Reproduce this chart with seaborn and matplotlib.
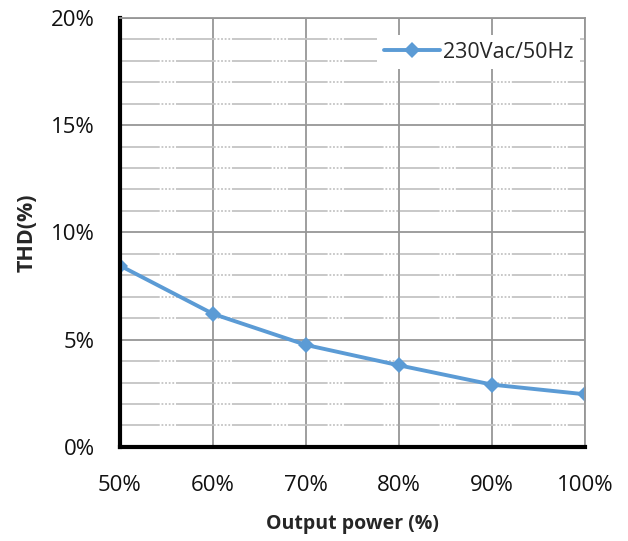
import matplotlib
matplotlib.use("Agg")
import matplotlib.pyplot as plt
import seaborn as sns
import pandas as pd
from matplotlib.ticker import MultipleLocator, FuncFormatter

# Dados
output_power = [50, 60, 70, 80, 90, 100]
thd = [8.45, 6.2, 4.75, 3.8, 2.9, 2.45]
series_label = "230Vac/50Hz"

df = pd.DataFrame({"power": output_power, "thd": thd, "serie": series_label})

sns.set_style("white")
plt.rcParams["font.family"] = ["Open Sans", "DejaVu Sans"]

fig = plt.figure(figsize=(6.28, 5.41), dpi=100)
ax = fig.add_axes([0.191, 0.174, 0.741, 0.793])

# Grade
ax.set_xlim(50, 100)
ax.set_ylim(0, 20)
ax.xaxis.set_major_locator(MultipleLocator(10))
ax.yaxis.set_major_locator(MultipleLocator(5))
ax.yaxis.set_minor_locator(MultipleLocator(1))
ax.grid(True, which="major", axis="both", color="#969696", linewidth=1.3)
ax.grid(True, which="minor", axis="y", color="#c4c4c4", linewidth=1.3,
        linestyle=(0, (22, 1, 1, 1, 1, 1, 1, 1, 1, 1)))
ax.set_axisbelow(True)

sns.lineplot(data=df, x="power", y="thd", hue="serie", palette=["#5b9bd5"],
             marker="D", markersize=8.5, markeredgewidth=0, linewidth=2.8, ax=ax)

# Eixos
for side in ["left", "bottom"]:
    ax.spines[side].set_color("black")
    ax.spines[side].set_linewidth(3)
for side in ["top", "right"]:
    ax.spines[side].set_color("#969696")
    ax.spines[side].set_linewidth(1.3)

ax.tick_params(axis="both", which="major", direction="in", length=6, width=3,
               color="black", labelsize=16, labelcolor="#111111")
ax.tick_params(axis="x", pad=20)
ax.tick_params(axis="y", pad=18)
ax.tick_params(axis="y", which="minor", length=0)
ax.xaxis.set_major_formatter(FuncFormatter(lambda v, p: f"{v:.0f}%"))
ax.yaxis.set_major_formatter(FuncFormatter(lambda v, p: f"{v:.0f}%"))

ax.set_xlabel("Output power (%)", fontsize=14, fontweight="bold", labelpad=13)
ax.set_ylabel("THD(%)", fontsize=15.5, fontweight="bold", labelpad=10)

leg = ax.legend(loc="upper right", frameon=True, fontsize=15.5, handlelength=2.6,
                handletextpad=0.15, borderpad=0.3, bbox_to_anchor=(1.012, 0.985))
leg.get_frame().set_facecolor("white")
leg.get_frame().set_edgecolor("none")
leg.get_frame().set_alpha(1)
leg.get_frame().set_boxstyle("square", pad=0.0)

fig.savefig("out.png", dpi=100, facecolor="white")
